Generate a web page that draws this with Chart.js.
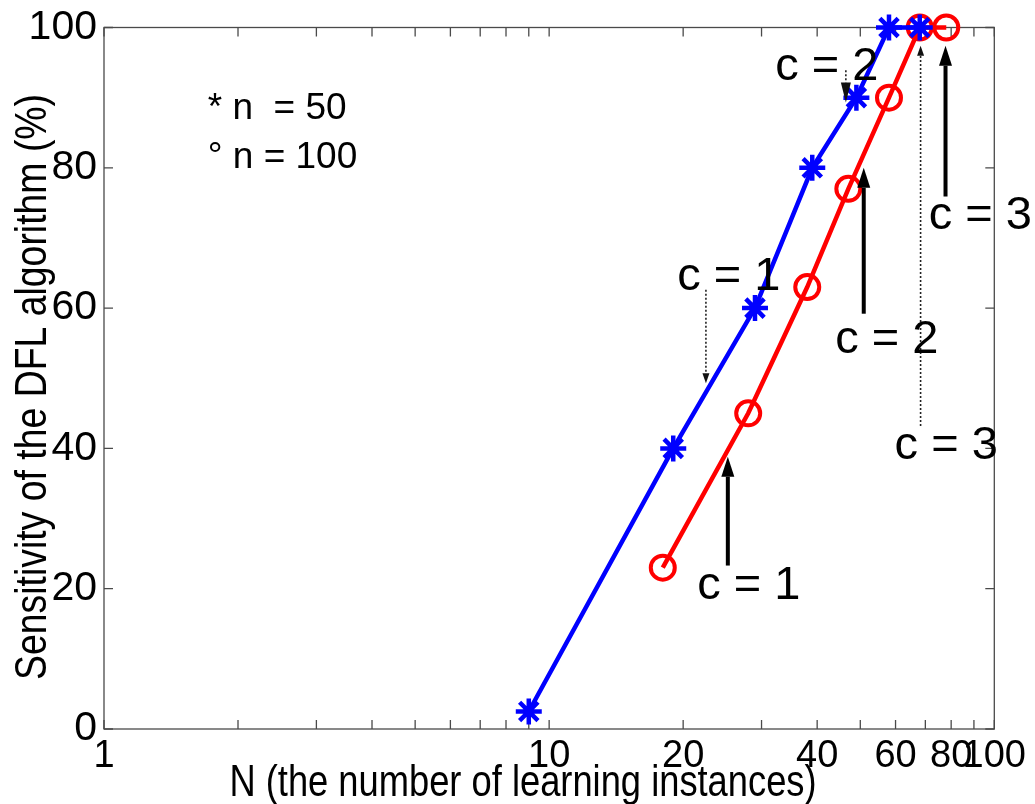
<!DOCTYPE html>
<html><head><meta charset="utf-8">
<script src="https://cdn.jsdelivr.net/npm/chart.js@4.4.1/dist/chart.umd.min.js"></script>
<style>html,body{margin:0;padding:0;background:#fff}canvas{display:block}</style>
</head><body>
<canvas id="c" width="1035" height="804"></canvas>
<script>
// ---- data ----
const xN50  = [9, 19, 29, 39, 49, 58, 68];
const yN50  = [2.5, 40, 60, 80, 90, 100, 100];
const xN100 = [18, 28, 38, 47, 58, 68, 78];
const yN100 = [23, 45, 63, 77, 90, 100, 100];

const xTickValues = [1,2,3,4,5,6,7,8,9,10,20,30,40,50,60,70,80,90,100];
const xTickLabels = [1,10,20,40,60,80,100];
const yTickValues = [0,20,40,60,80,100];

const xTitle = 'N (the number of learning instances)';
const yTitle = 'Sensitivity of the DFL algorithm (%)';

const legendLines = ['* n  = 50', '\u00b0 n = 100'];
const legendX = [1.71, 1.71];
const legendY = [87.0, 80.0];

// annotation arrows (data coordinates)
const solidArrowX    = [25.2, 50.9, 77.7];
const solidArrowFrom = [23.3, 59.2, 75.9];
const solidArrowTo   = [38.8, 80.0, 97.4];
const dottedArrowX    = [22.5, 46.4, 68.3];
const dottedArrowFrom = [62.6, 93.9, 43.2];
const dottedArrowTo   = [49.3, 89.3, 97.4];

// annotation labels (left edge x, baseline y in data coordinates)
const annoText = ['c = 1', 'c = 2', 'c = 3', 'c = 1', 'c = 2', 'c = 3'];
const annoX    = [21.5, 43.9, 71.2, 19.4, 32.2, 59.7];
const annoY    = [18.6, 53.6, 71.3, 62.6, 92.5, 38.5];

// ---- styles ----
const ARIAL = "'Liberation Sans', Arial, sans-serif";
const dottedHeadLen = [10, 20, 10];
const dottedHeadHalf = [3.5, 5, 3.5];

function arrow(ctx, x, y0, y1, headLen, headHalf, fill) {
  const dir = y1 > y0 ? 1 : -1;
  const baseY = y1 - dir * headLen;
  ctx.beginPath();
  ctx.moveTo(x, y0);
  ctx.lineTo(x, baseY);
  ctx.stroke();
  ctx.save();
  ctx.setLineDash([]);
  ctx.fillStyle = fill;
  ctx.beginPath();
  ctx.moveTo(x, y1);
  ctx.lineTo(x - headHalf, baseY);
  ctx.lineTo(x + headHalf, baseY);
  ctx.closePath();
  ctx.fill();
  ctx.restore();
}

const framePlugin = {
  id: 'frame',
  beforeDatasetsDraw(chart) {
    const {ctx, chartArea: a, scales: {x, y}} = chart;
    ctx.save();
    ctx.strokeStyle = '#4a4a4a';
    ctx.lineWidth = 1.3;
    ctx.strokeRect(a.left, a.top, a.right - a.left, a.bottom - a.top);
    const tl = 9;
    ctx.beginPath();
    xTickValues.forEach(v => {
      const px = x.getPixelForValue(v);
      ctx.moveTo(px, a.bottom); ctx.lineTo(px, a.bottom - tl);
      ctx.moveTo(px, a.top); ctx.lineTo(px, a.top + tl);
    });
    yTickValues.forEach(v => {
      const py = y.getPixelForValue(v);
      ctx.moveTo(a.left, py); ctx.lineTo(a.left + tl, py);
      ctx.moveTo(a.right, py); ctx.lineTo(a.right - tl, py);
    });
    ctx.stroke();
    ctx.restore();
  },
  afterDraw(chart) {
    const {ctx, chartArea: a, scales: {x, y}} = chart;
    ctx.save();
    // axis titles (horizontally condensed like the original)
    ctx.fillStyle = '#000';
    ctx.font = '44px ' + ARIAL;
    ctx.textAlign = 'center'; ctx.textBaseline = 'alphabetic';
    ctx.save();
    ctx.translate(523, 796);
    ctx.scale(0.825, 1);
    ctx.fillText(xTitle, 0, 0);
    ctx.restore();
    ctx.save();
    ctx.translate(46, 387);
    ctx.rotate(-Math.PI / 2);
    ctx.scale(0.85, 1);
    ctx.fillText(yTitle, 0, 0);
    ctx.restore();

    // solid arrows
    ctx.strokeStyle = '#000'; ctx.lineWidth = 4;
    solidArrowX.forEach((v, i) => {
      arrow(ctx, x.getPixelForValue(v), y.getPixelForValue(solidArrowFrom[i]),
            y.getPixelForValue(solidArrowTo[i]), 20, 6.5, '#000');
    });
    // dotted arrows
    ctx.strokeStyle = '#222'; ctx.lineWidth = 1.6; ctx.setLineDash([2, 2]);
    dottedArrowX.forEach((v, i) => {
      arrow(ctx, x.getPixelForValue(v), y.getPixelForValue(dottedArrowFrom[i]),
            y.getPixelForValue(dottedArrowTo[i]), dottedHeadLen[i], dottedHeadHalf[i], '#111');
    });
    ctx.setLineDash([]);
    // labels
    ctx.fillStyle = '#000';
    ctx.textAlign = 'left'; ctx.textBaseline = 'alphabetic';
    ctx.font = '47px ' + ARIAL;
    annoText.forEach((t, i) => ctx.fillText(t, x.getPixelForValue(annoX[i]), y.getPixelForValue(annoY[i])));
    // legend text
    ctx.font = '37px ' + ARIAL;
    legendLines.forEach((t, i) => ctx.fillText(t, x.getPixelForValue(legendX[i]), y.getPixelForValue(legendY[i])));
    ctx.restore();
  }
};

new Chart(document.getElementById('c'), {
  type: 'line',
  data: {
    datasets: [
      {
        label: 'n = 50',
        data: xN50.map((v, i) => ({x: v, y: yN50[i]})),
        borderColor: '#0000ff', backgroundColor: '#0000ff',
        borderWidth: 4.5, pointStyle: 'star', pointRadius: 13,
        pointBorderWidth: 4.5, pointBorderColor: '#0000ff',
        tension: 0, clip: false
      },
      {
        label: 'n = 100',
        data: xN100.map((v, i) => ({x: v, y: yN100[i]})),
        borderColor: '#ff0000', backgroundColor: 'rgba(0,0,0,0)',
        borderWidth: 4.5, pointStyle: 'circle', pointRadius: 12,
        pointBorderWidth: 4, pointBorderColor: '#ff0000',
        pointBackgroundColor: 'rgba(0,0,0,0)',
        tension: 0, clip: false
      }
    ]
  },
  options: {
    responsive: false,
    animation: false,
    events: [],
    layout: {padding: {top: 25, right: 37, left: 0, bottom: 0}},
    plugins: {legend: {display: false}, tooltip: {enabled: false}},
    scales: {
      x: {
        type: 'logarithmic', min: 1, max: 100,
        afterBuildTicks: s => { s.ticks = xTickValues.map(v => ({value: v})); },
        afterFit: s => { s.height = 75; },
        grid: {display: false, drawTicks: false},
        border: {display: false},
        ticks: {
          autoSkip: false, maxRotation: 0, minRotation: 0, padding: 9,
          color: '#000', font: {family: ARIAL, size: 38, lineHeight: 1},
          callback: v => xTickLabels.includes(v) ? String(v) : ''
        },
        title: {display: false, text: xTitle}
      },
      y: {
        min: 0, max: 100,
        afterBuildTicks: s => { s.ticks = yTickValues.map(v => ({value: v})); },
        afterFit: s => { s.width = 104; },
        grid: {display: false, drawTicks: false},
        border: {display: false},
        ticks: {padding: 7, color: '#000', font: {family: ARIAL, size: 41, lineHeight: 1}},
        title: {display: false, text: yTitle}
      }
    }
  },
  plugins: [framePlugin]
});
</script>
</body></html>
